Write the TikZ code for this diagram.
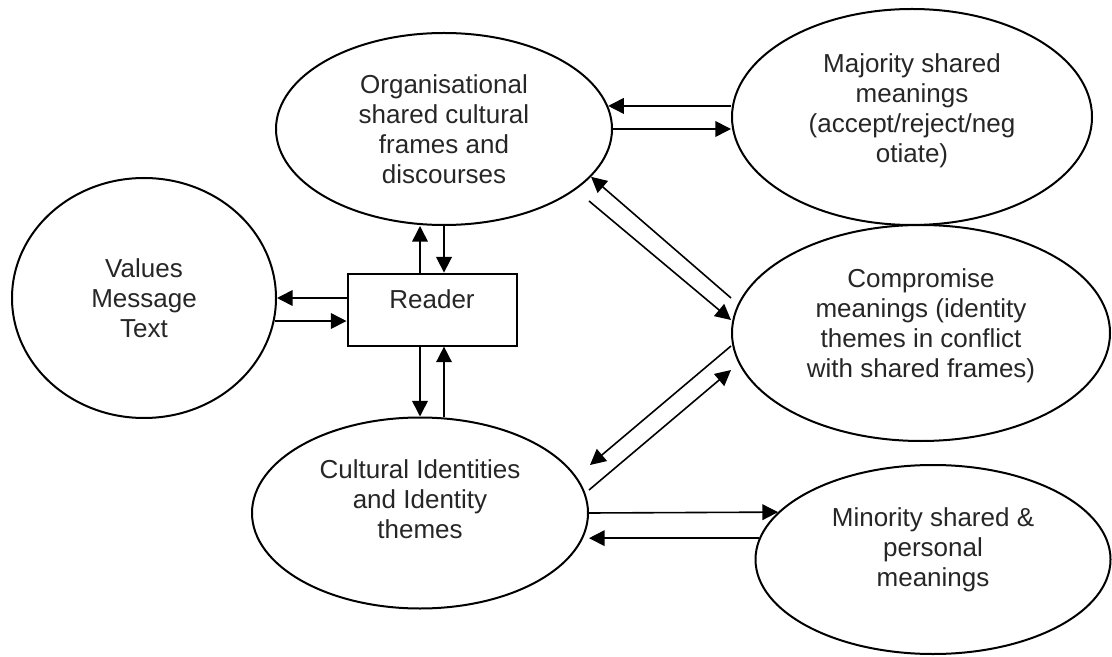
\documentclass[tikz,border=0pt]{standalone}
\usepackage{fontspec}
\setmainfont{Liberation Sans}
\usetikzlibrary{shapes.geometric,
                calc, %for offsets from anchors
                arrows.meta, % for triangle tips
                positioning}

\begin{document}
\begin{tikzpicture}[x=0.5pt, y=-0.5pt,
                    Oval/.style={draw, ellipse, line width=1pt, align=center, text=black!85, font=\fontsize{13}{15}\selectfont},
                    Box/.style={draw, rectangle, line width=1pt, text=black!85, font=\fontsize{13}{15}\selectfont},
                    feed/.style={line width=0.8pt, -{Triangle[length=7.8pt, width=7.8pt]}}
                    ]
    \useasboundingbox (0,0) rectangle (1112,657);

    % OVALS %
    \node[Oval, minimum width=132pt, minimum height=120pt] at (144,298) (values) {Values\\Message\\Text};
    \node[Oval, minimum width=168pt, minimum height=96pt] at (444,129) (org) {Organisational\\shared cultural\\frames and\\discourses};
    \node[Oval, minimum width=180pt, minimum height=108pt] at (912,117) (maj) {Majority shared\\meanings\\(accept/reject/neg\\otiate)\\[-5.8pt]};
    \node[Oval, minimum width=189pt, minimum height=108pt] at (921,333) (comp) {Compromise\\meanings (identity\\themes in conflict\\with shared frames)\\[-5.3pt]};
    \node[Oval, minimum width=168pt, minimum height=95.5pt] at (420,513) (cult) {Cultural Identities\\and Identity\\themes\\[-1pt]};
    \node[Oval, minimum width=177.5pt, minimum height=94.5pt] at (933,559.5) (mino) {Minority shared \&\\personal\\meanings\\[-2.3pt]};

    % READER %
    \node[Box, minimum width=84.5pt, minimum height=36pt, text height=8pt, text depth=9pt] at (432,309.6) (reader) {Reader};

    % READER LINKS %
    \draw[feed] (reader.west |- values.east) -- (values.east);
    \draw[feed] (values.-10) -- (values.-10 -| reader.west);
    \draw[feed] (cult.north |- reader.north) -- (cult.north |- org.south);
    \draw[feed] (org.south) -- (org.south |- reader.north);
    \draw[feed] (reader.south -| cult.north) -- (cult.north);
    \draw[feed] (org.south |- cult.north) -- (org.south |- reader.south);

    % MEANINGS %
    \draw[feed] (org.8 -| maj.west) -- (org.8);
    \draw[feed] (org.east) -- (org.east -| maj.west);
    \draw[feed] ($(comp.west)+(0,-35)$) -- (org.-18);
    \draw[feed] ($(org.east)+(-24,72)$) -- ($(comp.west)+(0,-13)$);
    \draw[feed] ($(comp.west)+(0,13)$) -- ($(cult.east)+(1,-48)$);
    \draw[feed] ($(cult.east)+(0,-23)$) -- ($(comp.west)+(0,37)$);
    \draw[feed] (cult.east) -- (mino.163);
    \draw[feed] (mino.173) -- (mino.173 -| cult.east);

\end{tikzpicture}
\end{document}
